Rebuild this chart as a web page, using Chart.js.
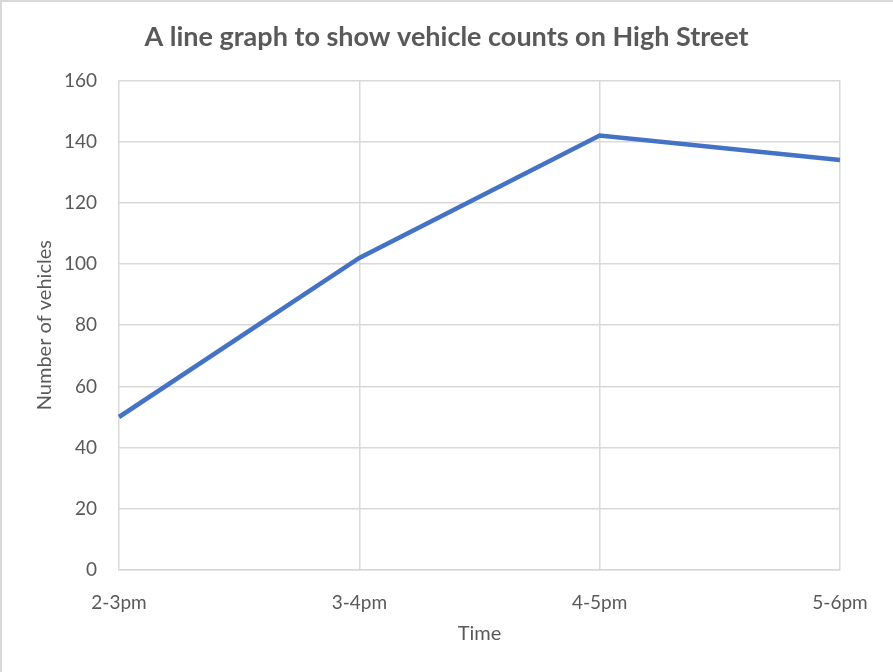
<!DOCTYPE html>
<html lang="en">
<head>
    <meta charset="UTF-8">
    <title>Vehicle counts on High Street</title>
    <script src="https://cdn.jsdelivr.net/npm/chart.js@4.4.0/dist/chart.umd.min.js"></script>
    <style>
        html, body { margin: 0; padding: 0; background: #fff; }
        .wrap { position: relative; width: 893px; height: 672px; }
        .frame {
            position: absolute; left: 0; top: 0; width: 893px; height: 672px;
            box-sizing: border-box; pointer-events: none;
            border-left: 2px solid #d9d9d9; border-top: 2px solid #d9d9d9;
        }
    </style>
</head>
<body>
    <div class="wrap">
        <canvas id="chart" width="893" height="672"></canvas>
        <div class="frame"></div>
    </div>

    <script>
        // Data
        const timeSlots = ['2-3pm', '3-4pm', '4-5pm', '5-6pm'];
        const vehicleCounts = [50, 102, 142, 134];
        const yTicks = [0, 20, 40, 60, 80, 100, 120, 140, 160];

        const FONT = "Lato, 'Noto Sans', sans-serif";
        const TEXT = '#595959';
        const GRID = '#d9d9d9';

        const ctx = document.getElementById('chart').getContext('2d');
        new Chart(ctx, {
            type: 'line',
            data: {
                labels: timeSlots,
                datasets: [{
                    label: 'Vehicles',
                    data: vehicleCounts,
                    borderColor: '#4472C4',
                    borderWidth: 4.5,
                    pointRadius: 0,
                    tension: 0,
                    fill: false
                }]
            },
            options: {
                responsive: false,
                animation: false,
                layout: { padding: 0 },
                plugins: {
                    legend: { display: false },
                    tooltip: { enabled: false },
                    title: {
                        display: true,
                        text: 'A line graph to show vehicle counts on High Street',
                        color: TEXT,
                        font: { family: FONT, size: 27, weight: 'bold' },
                        padding: { top: 21, bottom: 27 }
                    }
                },
                scales: {
                    x: {
                        offset: false,
                        grid: { color: GRID, lineWidth: 1.5, drawTicks: false },
                        border: { color: GRID, width: 1.5 },
                        ticks: { color: TEXT, font: { family: FONT, size: 19 }, padding: 21, maxRotation: 0 },
                        title: { display: true, text: 'Time', color: TEXT, font: { family: FONT, size: 20 }, padding: { top: 0, bottom: 26 } },
                        afterFit: (scale) => { scale.height = 102; }
                    },
                    y: {
                        min: 0,
                        max: 160,
                        afterBuildTicks: (scale) => { scale.ticks = yTicks.map(v => ({ value: v })); },
                        grid: { color: GRID, lineWidth: 1.5, drawTicks: false },
                        border: { display: false },
                        ticks: { color: TEXT, font: { family: FONT, size: 19 }, padding: 22 },
                        title: { display: true, text: 'Number of vehicles', color: TEXT, font: { family: FONT, size: 20 }, padding: { top: 33, bottom: 0 } },
                        afterFit: (scale) => { scale.width = 119; }
                    },
                    // empty strip on the right so the title stays centred on the page
                    yRight: {
                        type: 'linear',
                        position: 'right',
                        grid: { drawOnChartArea: false, drawTicks: false },
                        border: { display: false },
                        ticks: { display: false },
                        afterFit: (scale) => { scale.width = 53; }
                    }
                }
            }
        });
    </script>
</body>
</html>
